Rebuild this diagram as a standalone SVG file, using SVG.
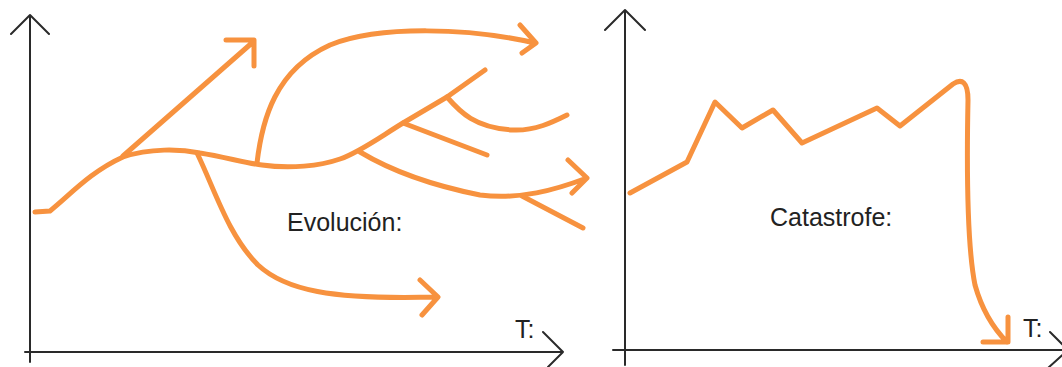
<svg xmlns="http://www.w3.org/2000/svg" width="1062" height="367" viewBox="0 0 1062 367">
<style>
.ax{fill:none;stroke:#2a2a2a;stroke-width:2;stroke-linecap:round;stroke-linejoin:round}
.or{fill:none;stroke:#F7923F;stroke-width:5;stroke-linecap:round;stroke-linejoin:round}
.tx{font-family:"Liberation Sans",Arial,sans-serif;font-size:25px;fill:#222}
</style>
<rect width="1062" height="367" fill="#fff"/>
<g id="left-chart">
  <g id="left-axes">
    <path class="ax" d="M30,15 L30,362 M11,34 L30,15 L49,34"/>
    <path class="ax" d="M25,352 L563,352 M543,332 L563,352 L548,367"/>
  </g>
  <g id="evolution-curves">
    <path class="or" d="M35,212 L50,211 C70,195 90,172 123,157 C150,148 180,149 200,153 C225,157 245,163 262,165 C290,169 320,166 340,159 C360,152 380,137 403,123 L447,97 L485,70"/>
    <path class="or" d="M123,156 L253,42 M226,40 L254,40 L254,66"/>
    <path class="or" d="M197,153 C215,190 228,235 258,265 C285,290 330,300 437,297 M420,280 L438,297 L422,315"/>
    <path class="or" d="M257,163 C262,120 275,70 330,45 C380,25 470,28 535,43 M520,25 L536,43 L522,53"/>
    <path class="or" d="M360,152 C390,170 430,185 480,195 C520,200 555,190 587,178 M568,160 L587,178 L572,193"/>
    <path class="or" d="M403,123 L487,155"/>
    <path class="or" d="M447,97 C460,112 475,128 513,130 C535,131 553,122 567,115"/>
    <path class="or" d="M522,196 L583,228"/>
  </g>
  <text class="tx" x="287" y="231">Evolución:</text>
  <text class="tx" x="515" y="338">T:</text>
</g>
<g id="right-chart">
  <g id="right-axes">
    <path class="ax" d="M625,10 L625,365 M605,30 L625,10 L645,30"/>
    <path class="ax" d="M613,350 L1070,350 M1050,332 L1068,350 L1048,368"/>
  </g>
  <g id="catastrophe-curve">
    <path class="or" d="M630,193 L687,162 L715,102 L742,128 L773,110 L802,143 L877,108 L900,126 L953,84 C962,78 968,82 968,100 C967,150 966,240 975,285 C982,310 995,330 1007,342 M983,342 L1008,342 L1008,317"/>
  </g>
  <text class="tx" x="770" y="226">Catastrofe:</text>
  <text class="tx" x="1023" y="337">T:</text>
</g>
</svg>
